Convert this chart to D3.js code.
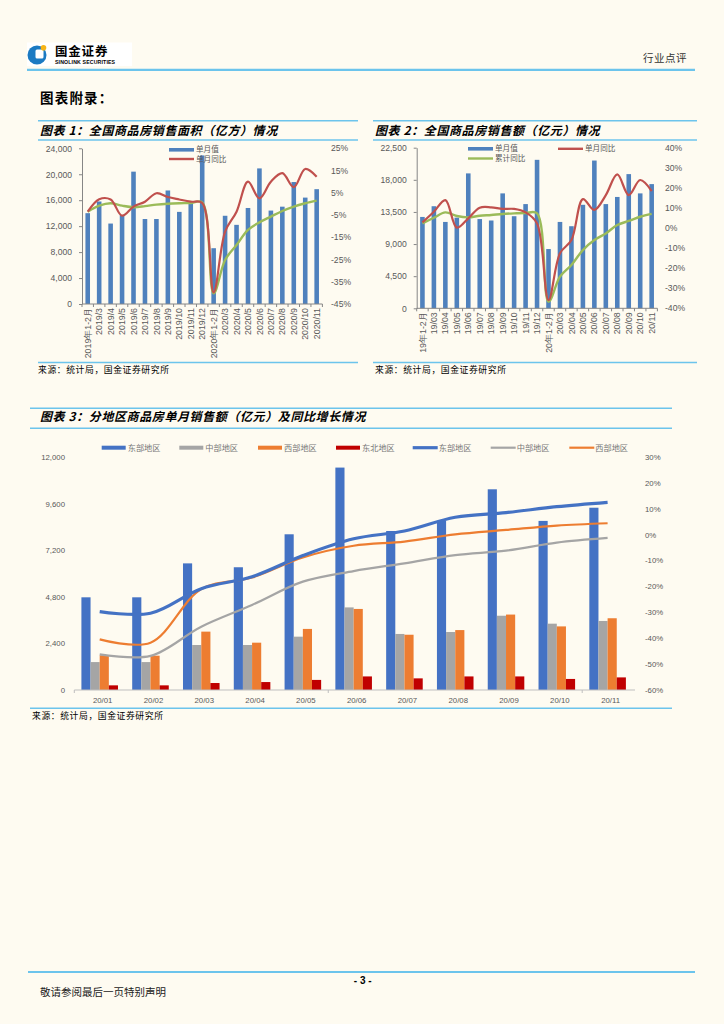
<!DOCTYPE html>
<html><head><meta charset="utf-8">
<script src="https://cdn.jsdelivr.net/npm/d3@7"></script>
<style>body{margin:0;background:#fefbf1}</style>
</head><body><svg id="c" width="724" height="1024"></svg>
<script>
// ---------- DATA ----------
const cats1 = ["2019年1-2月","2019/3","2019/4","2019/5","2019/6","2019/7","2019/8","2019/9","2019/10","2019/11","2019/12","2020年1-2月","2020/3","2020/4","2020/5","2020/6","2020/7","2020/8","2020/9","2020/10","2020/11"];
const area = [14000,15800,12400,13700,20400,13100,13100,17500,14200,15800,22900,8600,13600,12200,14800,20900,14400,15000,18800,16400,17700];
const areaMonthYoY = [-3.5,2.1,2.0,-5.3,-1.2,1.0,4.8,3.1,2.0,1.0,0.4,-39.8,-12.5,-3.5,10.0,2.5,10.0,13.8,7.5,15.7,12.2];
const areaCumYoY = [-3.5,-0.8,0.3,-0.8,-1.5,-1.0,-0.3,0.1,0.3,0.4,0.7,-40.2,-25.2,-18.5,-11.7,-8.3,-5.7,-3.2,-1.2,0.3,1.5];
const ticks1L = [0,4000,8000,12000,16000,20000,24000];
const ticks1R = [25,15,5,-5,-15,-25,-35,-45];

const cats2 = ["19年1-2月","19/03","19/04","19/05","19/06","19/07","19/08","19/09","19/10","19/11","19/12","20年1-2月","20/03","20/04","20/05","20/06","20/07","20/08","20/09","20/10","20/11"];
const sales = [12800,14300,12100,12700,18900,12500,12300,16100,12900,14600,20800,8300,12100,11500,14500,20700,14600,15600,18800,16100,17400];
const salesMonthYoY = [2.8,8.1,13.9,0.2,4.8,10.1,10.3,9.5,9.5,7.8,2.3,-35.9,-12.6,-6.0,14.4,9.0,16.4,26.7,16.4,23.9,18.4];
const salesCumYoY = [2.3,5.1,7.8,6.0,5.3,6.1,6.5,7.0,7.3,7.5,7.3,-36.7,-24.2,-18.4,-11.0,-6.0,-2.7,1.5,3.5,5.6,7.0];
const ticks2L = [0,4500,9000,13500,18000,22500];
const ticks2R = [40,30,20,10,0,-10,-20,-30,-40];

const cats3 = ["20/01","20/02","20/03","20/04","20/05","20/06","20/07","20/08","20/09","20/10","20/11"];
const regions = ["东部地区","中部地区","西部地区","东北地区"];
const eastSales = [4780,4780,6530,6330,8030,11470,8200,8730,10350,8720,9400];
const centralSales = [1440,1440,2320,2320,2750,4260,2890,2990,3830,3420,3560];
const westSales = [1790,1770,3010,2440,3150,4180,2850,3090,3890,3280,3700];
const northeastSales = [240,240,360,410,520,700,600,700,700,570,650];
const eastYoY = [-29.7,-30.3,-20.8,-16.2,-8.0,-1.5,1.5,6.8,8.6,10.9,12.6];
const centralYoY = [-46.2,-46.8,-35.5,-27.1,-18.1,-14.0,-11.0,-7.8,-6.1,-3.0,-1.2];
const westYoY = [-40.4,-41.7,-21.0,-16.5,-8.7,-4.2,-2.6,0.2,1.9,3.6,4.5];
const ticks3L = [0,2400,4800,7200,9600,12000];
const ticks3R = [30,20,10,0,-10,-20,-30,-40,-50,-60];

// ---------- SETUP ----------
const svg = d3.select("#c");
const BG = "#fefbf1", RULE = "#6cc4ec", AX = "#595959";
const CJK = "'Noto Sans CJK SC','Noto Sans',sans-serif";
const NUM = "'Liberation Sans',Arial,sans-serif";
svg.append("rect").attr("width",724).attr("height",1024).attr("fill",BG);

function hline(x1,x2,y,w,c){svg.append("line").attr("x1",x1).attr("x2",x2).attr("y1",y).attr("y2",y).attr("stroke",c||RULE).attr("stroke-width",w);}
function txt(x,y,s,o){o=o||{};const t=svg.append("text").attr("x",x).attr("y",y).text(s)
  .attr("font-family",o.ff||CJK).attr("font-size",o.fs||10).attr("fill",o.fill||"#000")
  .attr("text-anchor",o.anchor||"start").attr("dy",o.dy||"0.35em");
  if(o.fw)t.attr("font-weight",o.fw); if(o.fst)t.attr("font-style",o.fst); if(o.ls)t.attr("letter-spacing",o.ls); return t;}

// ---------- HEADER ----------
const logo = svg.append("g");
logo.append("rect").attr("x",27).attr("y",42.5).attr("width",105).attr("height",23.5).attr("fill","#fff");
logo.append("circle").attr("cx",37).attr("cy",55).attr("r",9.5).attr("fill","#1b7ac2");
logo.append("rect").attr("x",35.5).attr("y",49.5).attr("width",8).attr("height",9).attr("rx",1.5).attr("fill","#fff");
logo.append("circle").attr("cx",43.5).attr("cy",47.8).attr("r",2.8).attr("fill","#f6b417");
txt(55,51.8,"国金证券",{fs:12.5,fw:"bold",ls:"0.8"});
txt(55,62.6,"SINOLINK SECURITIES",{fs:5.2,fw:"bold",ff:NUM,ls:"0.15"});
hline(27,695,69.8,2.2);
txt(687,58.3,"行业点评",{fs:10.5,anchor:"end",fill:"#333",ls:"0.5"});
txt(40,98.3,"图表附录：",{fs:13.5,fw:"bold",ls:"1.2"});

// ---------- COMBO CHARTS (1 & 2) ----------
function combo(c){
  const g = svg.append("g");
  const x = d3.scaleBand().domain(c.cats).range([c.x0,c.x1]).paddingInner(0.6).paddingOuter(0.3);
  const yL = d3.scaleLinear().domain([0,c.lmax]).range([c.bottom,c.top]);
  const yR = d3.scaleLinear().domain([c.rmin,c.rmax]).range([c.bottom,c.top]);
  const cx = d => x(d)+x.bandwidth()/2;
  g.selectAll(".b").data(c.bars).join("rect")
    .attr("x",(d,i)=>x(c.cats[i])).attr("width",x.bandwidth())
    .attr("y",d=>yL(d)).attr("height",d=>c.bottom-yL(d)).attr("fill","#4f81bd");
  const ax = g.append("g").attr("transform",`translate(${c.x0},0)`)
    .call(d3.axisLeft(yL).tickValues(c.lt).tickSize(3).tickSizeOuter(0).tickFormat(d3.format(",")));
  ax.select(".domain").attr("stroke","#868686");
  ax.selectAll(".tick line").attr("stroke","#868686");
  ax.selectAll(".tick text").attr("font-family",NUM).attr("font-size",8.6).attr("fill",AX).attr("x",-10);
  g.append("line").attr("x1",c.x0).attr("x2",c.x1).attr("y1",c.bottom).attr("y2",c.bottom).attr("stroke","#868686");
  g.selectAll(".xt").data(d3.range(c.cats.length+1)).join("line")
    .attr("x1",i=>c.x0+i*x.step()).attr("x2",i=>c.x0+i*x.step())
    .attr("y1",c.bottom).attr("y2",c.bottom+3).attr("stroke","#868686");
  g.selectAll(".xl").data(c.cats).join("text")
    .attr("transform",d=>`translate(${cx(d)},${c.bottom+4}) rotate(-90)`)
    .attr("text-anchor","end").attr("dy","0.35em")
    .attr("font-family",NUM).attr("font-size",8.8).attr("fill",AX).text(d=>d);
  g.selectAll(".rl").data(c.rt).join("text")
    .attr("x",c.rx).attr("y",d=>yR(d)).attr("dy","0.35em")
    .attr("font-family",NUM).attr("font-size",8.6).attr("fill",AX).text(d=>d+"%");
  const line = d3.line().x((d,i)=>cx(c.cats[i])).y(d=>yR(d)).curve(d3.curveCatmullRom.alpha(0.5));
  g.append("path").attr("d",line(c.cum)).attr("fill","none").attr("stroke","#9bbb59").attr("stroke-width",2.4);
  g.append("path").attr("d",line(c.mon)).attr("fill","none").attr("stroke","#c0504d").attr("stroke-width",2.2);
  c.legend.forEach(l=>{
    if(l.type==="bar") g.append("rect").attr("x",l.x).attr("y",l.y-1.8).attr("width",25).attr("height",3.6).attr("fill",l.color);
    else g.append("line").attr("x1",l.x).attr("x2",l.x+25).attr("y1",l.y).attr("y2",l.y).attr("stroke",l.color).attr("stroke-width",2.4);
    g.append("text").attr("x",l.x+27).attr("y",l.y).attr("dy","0.35em").attr("font-family",CJK)
      .attr("font-size",7.6).attr("fill",AX).text(l.label);
  });
}

hline(38,358,120.7,1.6); hline(38,358,140,1.6);
txt(40,130.3,"图表 1：全国商品房销售面积（亿方）情况",{fs:12,fw:"bold",fst:"italic",ls:"0.6"});
combo({cats:cats1,bars:area,mon:areaMonthYoY,cum:areaCumYoY,x0:82,x1:322.4,top:148.3,bottom:304,
  lmax:24000,lt:ticks1L,rmin:-45,rmax:25,rt:ticks1R,rx:331,
  legend:[{type:"bar",x:169,y:149.8,color:"#4f81bd",label:"单月值"},{type:"line",x:169,y:159,color:"#c0504d",label:"单月同比"}]});
hline(38,358,362.5,1.6);
txt(38,369.5,"来源：统计局，国金证券研究所",{fs:8.8,ls:"0.6"});

hline(373,697,120.7,1.6); hline(373,697,140,1.6);
txt(375,130.3,"图表 2：全国商品房销售额（亿元）情况",{fs:12,fw:"bold",fst:"italic",ls:"0.6"});
combo({cats:cats2,bars:sales,mon:salesMonthYoY,cum:salesCumYoY,x0:416.7,x1:657.4,top:147.7,bottom:308.3,
  lmax:22500,lt:ticks2L,rmin:-40,rmax:40,rt:ticks2R,rx:665,
  legend:[{type:"bar",x:468,y:148.8,color:"#4f81bd",label:"单月值"},{type:"line",x:558,y:148.8,color:"#c0504d",label:"单月同比"},
          {type:"line",x:468,y:158.5,color:"#9bbb59",label:"累计同比"}]});
hline(373,697,362.5,1.6);
txt(375,369.5,"来源：统计局，国金证券研究所",{fs:8.8,ls:"0.6"});

// ---------- CHART 3 ----------
hline(30,672,408.3,1.6); hline(30,672,428.3,1.6);
txt(40,416.7,"图表 3：分地区商品房单月销售额（亿元）及同比增长情况",{fs:12,fw:"bold",fst:"italic",ls:"0.6"});
(function(){
  const g = svg.append("g");
  const X0=74.3, X1=633, TOP=457.3, BOT=690;
  const x = d3.scaleBand().domain(cats3).range([X0,X1]).paddingInner(0.28).paddingOuter(0.14);
  const xs = d3.scaleBand().domain(regions).range([0,x.bandwidth()]);
  const yL = d3.scaleLinear().domain([0,12000]).range([BOT,TOP]);
  const yR = d3.scaleLinear().domain([-60,30]).range([BOT,TOP]);
  const colors = {"东部地区":"#4472c4","中部地区":"#a5a5a5","西部地区":"#ed7d31","东北地区":"#c00000"};
  const series = [eastSales,centralSales,westSales,northeastSales];
  series.forEach((s,k)=>{
    g.selectAll(".s"+k).data(s).join("rect")
      .attr("x",(d,i)=>x(cats3[i])+xs(regions[k])).attr("width",xs.bandwidth())
      .attr("y",d=>yL(d)).attr("height",d=>BOT-yL(d)).attr("fill",colors[regions[k]]);
  });
  g.append("line").attr("x1",X0).attr("x2",635).attr("y1",BOT).attr("y2",BOT).attr("stroke","#bfbfbf").attr("stroke-width",1);
  g.selectAll(".xt").data([0,5,10]).join("line").attr("x1",i=>X0+i*x.step()).attr("x2",i=>X0+i*x.step())
    .attr("y1",BOT).attr("y2",BOT+3).attr("stroke","#bfbfbf");
  g.selectAll(".xl").data(cats3).join("text").attr("x",d=>x(d)+x.bandwidth()/2+3).attr("y",700.3).attr("dy","0.35em")
    .attr("text-anchor","middle").attr("font-family",NUM).attr("font-size",7.8).attr("fill",AX).text(d=>d);
  g.selectAll(".ll").data(ticks3L).join("text").attr("x",65).attr("y",d=>yL(d)).attr("dy","0.35em")
    .attr("text-anchor","end").attr("font-family",NUM).attr("font-size",7.8).attr("fill",AX).text(d3.format(","));
  g.selectAll(".rl").data(ticks3R).join("text").attr("x",645).attr("y",d=>yR(d)).attr("dy","0.35em")
    .attr("font-family",NUM).attr("font-size",7.8).attr("fill",AX).text(d=>d+"%");
  const line = d3.line().x((d,i)=>x(cats3[i])+x.bandwidth()/2).y(d=>yR(d)).curve(d3.curveCatmullRom.alpha(0.5));
  g.append("path").attr("d",line(centralYoY)).attr("fill","none").attr("stroke","#a5a5a5").attr("stroke-width",2.2);
  g.append("path").attr("d",line(westYoY)).attr("fill","none").attr("stroke","#ed7d31").attr("stroke-width",2.2);
  g.append("path").attr("d",line(eastYoY)).attr("fill","none").attr("stroke","#4472c4").attr("stroke-width",3.2);
  const LY = 447.7;
  const leg = [
    {t:"bar",x:101.7,c:"#4472c4",l:"东部地区"},{t:"bar",x:179.3,c:"#a5a5a5",l:"中部地区"},
    {t:"bar",x:258,c:"#ed7d31",l:"西部地区"},{t:"bar",x:336,c:"#c00000",l:"东北地区"},
    {t:"line",x:412.7,c:"#4472c4",l:"东部地区",w:3.2},{t:"line",x:490.7,c:"#a5a5a5",l:"中部地区",w:2.2},
    {t:"line",x:569.3,c:"#ed7d31",l:"西部地区",w:2.2}];
  leg.forEach(d=>{
    if(d.t==="bar") g.append("rect").attr("x",d.x).attr("y",LY-2).attr("width",24).attr("height",4).attr("fill",d.c);
    else g.append("line").attr("x1",d.x).attr("x2",d.x+25).attr("y1",LY).attr("y2",LY).attr("stroke",d.c).attr("stroke-width",d.w);
    g.append("text").attr("x",d.x+26).attr("y",LY).attr("dy","0.35em").attr("font-family",CJK).attr("font-size",8.2)
      .attr("fill","#777").text(d.l);
  });
})();
hline(30,672,708.3,1.6);
txt(32,716.3,"来源：统计局，国金证券研究所",{fs:8.8,ls:"0.6"});

// ---------- FOOTER ----------
hline(28,695,972,2.2);
txt(362.7,980,"- 3 -",{fs:10,fw:"bold",ff:NUM,anchor:"middle"});
txt(40,992.7,"敬请参阅最后一页特别声明",{fs:10.5,fill:"#222"});
</script></body></html>
